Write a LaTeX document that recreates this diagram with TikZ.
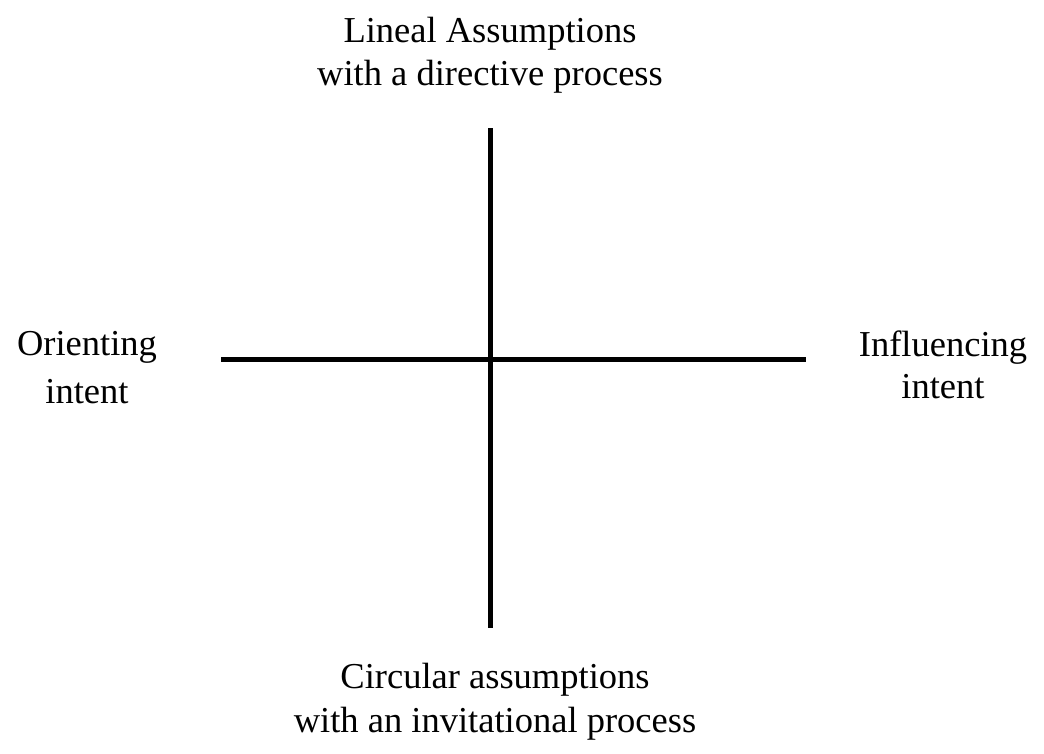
\documentclass[tikz,border=0pt]{standalone}
\usepackage{fontspec}
\setmainfont{Liberation Serif}
\begin{document}
\begin{tikzpicture}[x=1pt,y=-1pt,
  lbl/.style={align=center,anchor=base,inner sep=0pt,font=\fontsize{36.5}{43}\selectfont},
  axis/.style={line width=5pt}]
\useasboundingbox (0,0) rectangle (1044,753);
\coordinate (vt) at (490,128);
\coordinate (vb) at (490,628);
\coordinate (hl) at (221,359);
\coordinate (hr) at (806,359);
\draw[axis] (vt) -- (vb);
\draw[axis] (hl) -- (hr);
\node[lbl] (top) at (490,85) {Lineal Assumptions\\with a directive process};
\node[lbl] (left) at (87,403) {Orienting\\[5pt]intent};
\node[lbl] (right) at (943,398) {Influencing\\[-1pt]intent};
\node[lbl] (bottom) at (495,732) {Circular assumptions\\[1pt]with an invitational process};
\end{tikzpicture}
\end{document}
